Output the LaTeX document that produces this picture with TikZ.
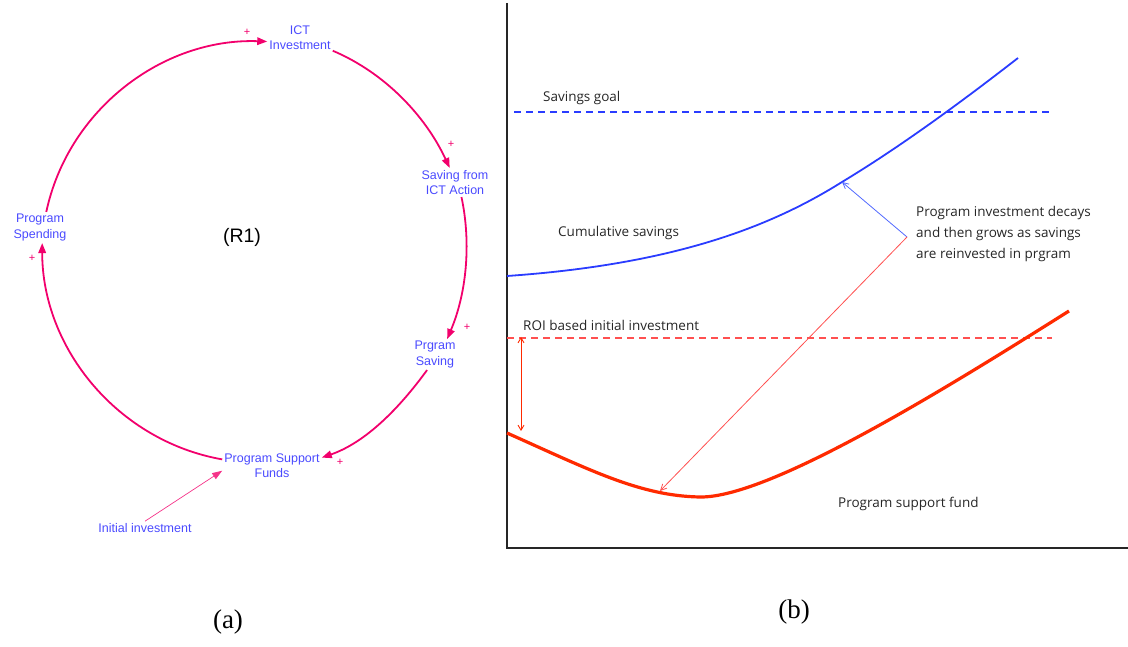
\documentclass[tikz,border=0pt]{standalone}
\usepackage{fontspec}
\setmainfont{Liberation Sans}
\newfontfamily\rfont{Open Sans}
\newfontfamily\capfont{Liberation Serif}
\usetikzlibrary{arrows.meta,calc}
\definecolor{loopc}{HTML}{F2006C}
\definecolor{vtxt}{HTML}{4A4AFF}
\definecolor{cumc}{HTML}{2A3CFF}
\definecolor{redc}{HTML}{FF2A00}
\definecolor{redl}{HTML}{FF5050}
\definecolor{bluel}{HTML}{5068FF}
\begin{document}
\begin{tikzpicture}[x=1pt,y=1pt,
  var/.style={font=\fontsize{12.5}{15.5}\selectfont, text=vtxt, align=center, inner sep=2pt},
  link/.style={draw=loopc, line width=1.8pt, -{Triangle[length=10pt,width=7.5pt]}},
  sgn/.style={font=\fontsize{11}{11}\selectfont, text=loopc, inner sep=0pt},
  lbl/.style={font=\rfont\fontsize{13.5}{21}\selectfont, anchor=west, inner sep=0pt, text=black!85},
  capt/.style={font=\capfont\fontsize{27}{30}\selectfont, inner sep=0pt},
  thinarr/.style={line width=0.8pt, -{Straight Barb[length=6pt,width=6pt]}},
]
\useasboundingbox (0,0) rectangle (1128,646);
% ---------- (a) causal loop ----------
\node[var] (ict) at (300,608.5) {ICT\\Investment};
\node[var] (sav) at (455,463.5) {Saving from\\ICT Action};
\node[var] (psv) at (435,291.5) {Prgram\\Saving};
\node[var] (psf) at (272,180.5) {Program Support\\Funds};
\node[var] (ps)  at (40,418.5) {Program\\Spending};
\node[var, anchor=center] (ini) at (145,118) {Initial investment};
\node[font=\fontsize{19.5}{19.5}\selectfont, inner sep=0pt] (r1) at (242,409) {(R1)};

\draw[link] (ps.68)  to[out=78,in=178,looseness=0.96] (ict.187);
\draw[link] (ict.-22) to[out=-23,in=115,looseness=0.88] (sav.110);
\draw[link] (sav.-66) to[out=-78,in=67,looseness=0.87] (psv.52);
\draw[link] (psv.-117) to[out=-126,in=19,looseness=0.87] (psf.9);
\draw[link] (psf.173) to[out=170,in=270,looseness=0.96] (ps.-82);
\draw[draw=loopc!80, line width=0.7pt, -{Triangle[length=10pt,width=7pt]}] (ini.north) -- (psf.186);

\node[sgn] (s1) at (247,614) {+};
\node[sgn] (s2) at (451,502) {+};
\node[sgn] (s3) at (467,319) {+};
\node[sgn] (s4) at (340,184) {+};
\node[sgn] (s5) at (32,388) {+};

% ---------- (b) graph ----------
\coordinate (ytop) at (507,643);
\coordinate (orig) at (507,98);
\coordinate (xend) at (1128,98);
\draw[line width=1.2pt, black!85] (ytop) -- (orig) -- (xend);

\coordinate (g1) at (514,534);
\coordinate (g2) at (1050,534);
\draw[cumc, line width=1.4pt, dash pattern=on 7pt off 5pt] (g1) -- (g2);
\node[lbl] (goal) at (543,548) {Savings goal};

\coordinate (c0) at (507,370);
\coordinate (ctip) at (842,464);
\coordinate (c2) at (1018,588);
\draw[cumc, line width=1.8pt] (c0) .. controls (680,382) and (775,422) .. (ctip)
  .. controls (900,499) and (960,543) .. (c2);
\node[lbl] (cuml) at (558,413) {Cumulative savings};

\coordinate (r1a) at (507,308);
\coordinate (r2a) at (1052,308);
\draw[redl, line width=1.2pt, dash pattern=on 7pt off 5pt] (r1a) -- (r2a);
\node[lbl] (roi) at (523,321) {ROI based initial investment};

\coordinate (f0) at (507,213);
\coordinate (fmin) at (700,149);
\coordinate (f2) at (1069,335);
\draw[redc, line width=3.2pt] (f0) .. controls (590,176) and (640,150) .. (fmin)
  .. controls (770,148) and (950,260) .. (f2);
\node[lbl] (psfl) at (838,142) {Program support fund};

\coordinate (da1) at (521,309);
\coordinate (da2) at (521,215);
\draw[redc, line width=0.9pt, {Straight Barb[length=5pt,width=6pt]}-{Straight Barb[length=5pt,width=6pt]}] (da1) -- (da2);

\node[lbl, align=left] (note) at (916,412) {Program investment decays\\and then grows as savings\\are reinvested in prgram};
\coordinate (conv) at (907,409);
\coordinate (ftip) at (660,155);
\draw[bluel, thinarr] (conv) -- (ctip);
\draw[redl, thinarr] (conv) -- (ftip);

% ---------- captions ----------
\node[capt] (ca) at (228,24) {(a)};
\node[capt] (cb) at (794,34) {(b)};
\end{tikzpicture}
\end{document}
